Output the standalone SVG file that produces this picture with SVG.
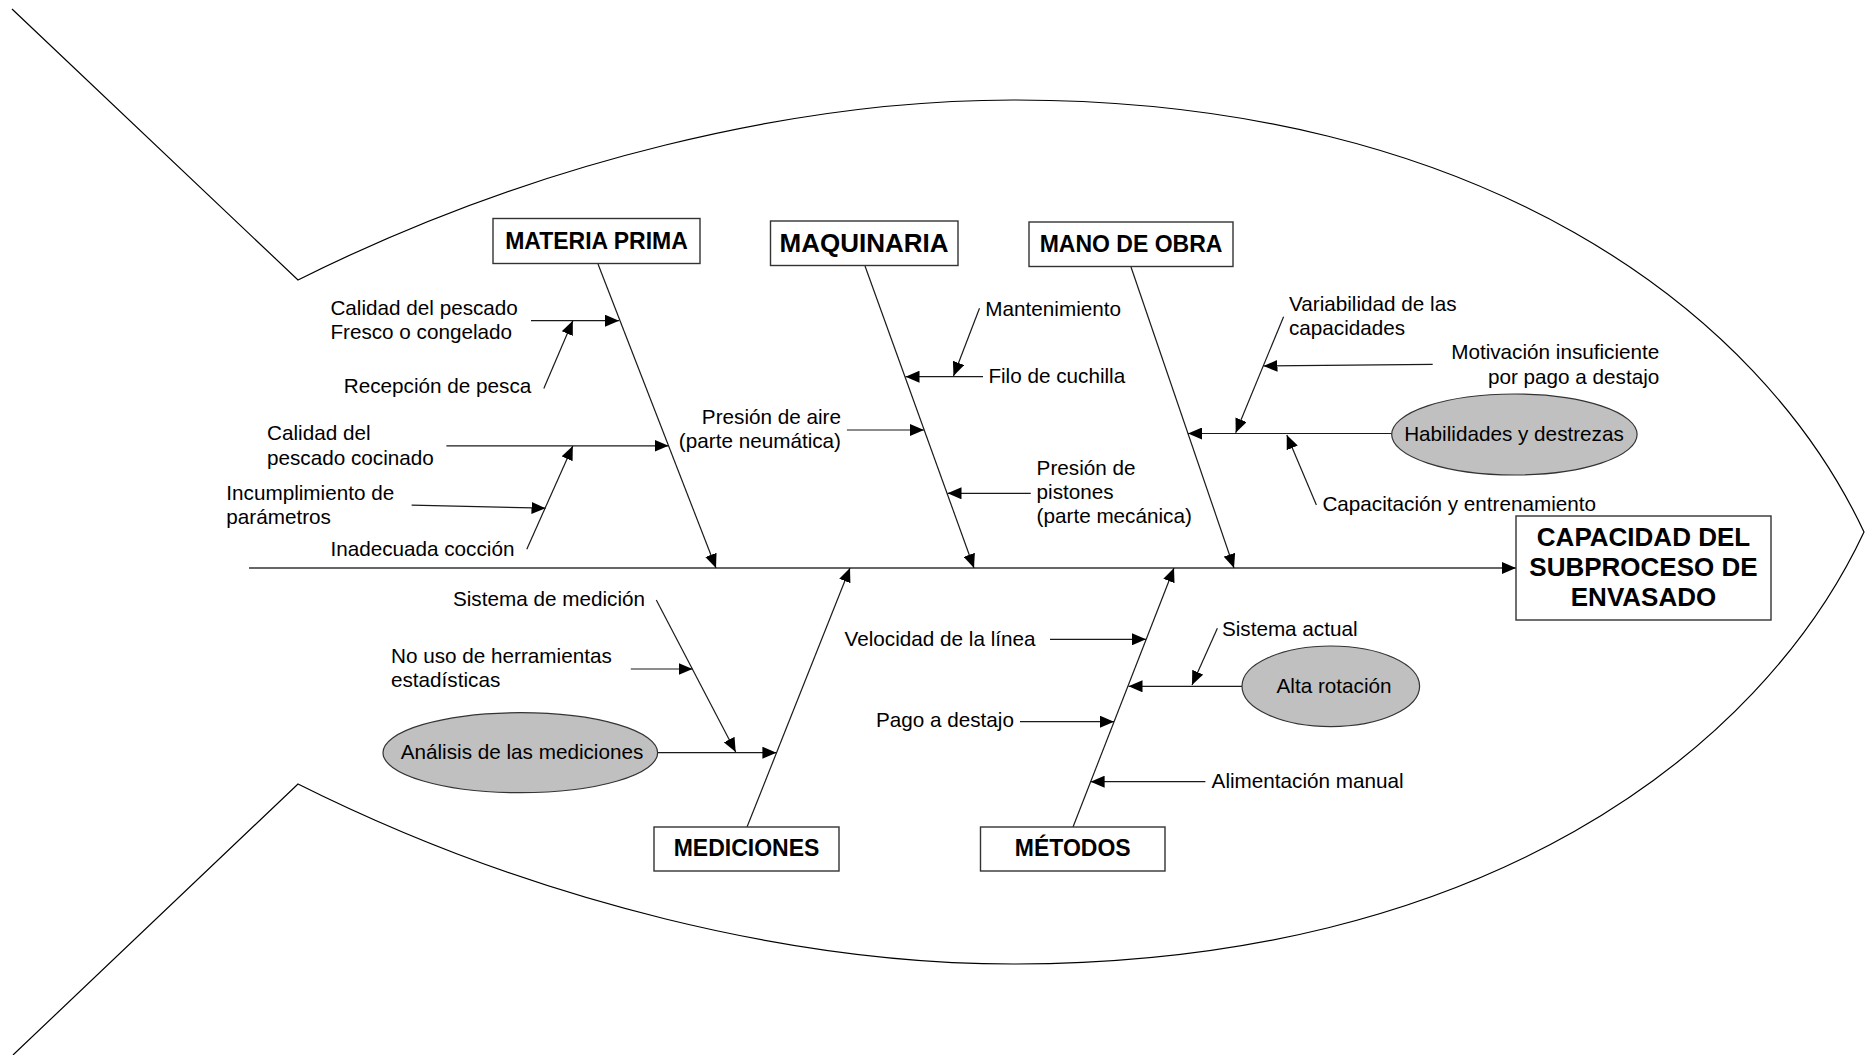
<svg xmlns="http://www.w3.org/2000/svg" width="1865" height="1055" viewBox="0 0 1865 1055">
  <defs>
    <marker id="arrow" markerUnits="userSpaceOnUse" markerWidth="15" markerHeight="12" refX="14" refY="6" orient="auto">
      <path d="M0,0 L14,6 L0,12 Z" fill="#000"/>
    </marker>
    <style>
      .fish { fill: none; stroke: #000; stroke-width: 1.2; }
      .bone { fill: none; stroke: #1a1a1a; stroke-width: 1.2; marker-end: url(#arrow); }
      .spine { fill: none; stroke: #333; stroke-width: 1.6; marker-end: url(#arrow); }
      .link { fill: none; stroke: #333; stroke-width: 1.6; }
      .box { fill: #fff; stroke: #333; stroke-width: 1.4; }
      .oval { fill: #c0c0c0; stroke: #333; stroke-width: 1.2; }
      .t { font-family: "Liberation Sans", Arial, sans-serif; font-size: 20.7px; fill: #000; }
      .r { text-anchor: end; }
      .m { text-anchor: middle; }
      .cat { font-family: "Liberation Sans", Arial, sans-serif; font-weight: bold; font-size: 23px; fill: #000; text-anchor: middle; }
      .head { font-family: "Liberation Sans", Arial, sans-serif; font-weight: bold; font-size: 26px; fill: #000; text-anchor: middle; }
    </style>
  </defs>

  <!-- fish outline: tail and body -->
  <path class="fish" d="M12,9 L298,280 C538,160 800,100 1013,100 C1480,100 1760,310 1864,532 C1760,754 1480,964 1013,964 C800,964 538,904 298,784 L13,1055"/>

  <!-- connectors -->
  <g id="connectors">
    <line class="spine" x1="249" y1="568" x2="1516" y2="568"/>
    <!-- main bones -->
    <line class="bone" x1="598" y1="264" x2="716" y2="568"/>
    <line class="bone" x1="865" y1="266" x2="974" y2="568"/>
    <line class="bone" x1="1131" y1="267" x2="1234" y2="568"/>
    <line class="bone" x1="747" y1="827" x2="850" y2="568"/>
    <line class="bone" x1="1073" y1="827" x2="1174" y2="568"/>
    <!-- materia prima -->
    <line class="bone" x1="531" y1="320.7" x2="619" y2="320.7"/>
    <line class="bone" x1="543.8" y1="388.4" x2="572.8" y2="320.7"/>
    <line class="bone" x1="446.4" y1="445.8" x2="668.5" y2="445.8"/>
    <line class="bone" x1="411.6" y1="505.2" x2="545.5" y2="508.2"/>
    <line class="bone" x1="526.8" y1="549.2" x2="572.8" y2="446"/>
    <!-- maquinaria -->
    <line class="bone" x1="979.5" y1="308.3" x2="953.5" y2="376"/>
    <line class="bone" x1="983" y1="376.7" x2="905.5" y2="376.7"/>
    <line class="bone" x1="846.9" y1="430" x2="924" y2="430"/>
    <line class="bone" x1="1030.8" y1="493.3" x2="947.5" y2="493.3"/>
    <!-- mano de obra -->
    <line class="bone" x1="1391.7" y1="433.5" x2="1188" y2="433.5"/>
    <line class="bone" x1="1283.6" y1="316.7" x2="1235.7" y2="432.7"/>
    <line class="bone" x1="1432.7" y1="364.3" x2="1263.5" y2="366"/>
    <line class="bone" x1="1316.4" y1="505" x2="1286.8" y2="435"/>
    <!-- mediciones -->
    <line class="bone" x1="657.6" y1="752.7" x2="776.4" y2="752.7"/>
    <line class="bone" x1="656.3" y1="600" x2="735.7" y2="752"/>
    <line class="bone" x1="630.8" y1="669" x2="692.5" y2="669"/>
    <!-- metodos -->
    <line class="bone" x1="1050" y1="639.3" x2="1146" y2="639.3"/>
    <line class="bone" x1="1242" y1="686.3" x2="1128.5" y2="686.3"/>
    <line class="bone" x1="1217.4" y1="628.3" x2="1192" y2="685"/>
    <line class="bone" x1="1020" y1="721.7" x2="1114" y2="721.7"/>
    <line class="bone" x1="1205.4" y1="781.7" x2="1090.6" y2="781.7"/>
  </g>

  <!-- effect -->
  <g id="capacidad">
    <rect class="box" x="1516" y="516" width="255" height="104"/>
    <text class="head" x="1643.5" y="545.7">CAPACIDAD DEL</text>
    <text class="head" x="1643.5" y="576">SUBPROCESO DE</text>
    <text class="head" x="1643.5" y="606">ENVASADO</text>
  </g>

  <!-- categories -->
  <g id="materia-prima">
    <rect class="box" x="493" y="218.5" width="207" height="45"/>
    <text class="cat" x="596.5" y="249">MATERIA PRIMA</text>
  </g>
  <g id="maquinaria">
    <rect class="box" x="770.5" y="221" width="187.5" height="44.5"/>
    <text class="cat" x="864" y="252" style="font-size:26px">MAQUINARIA</text>
  </g>
  <g id="mano-de-obra">
    <rect class="box" x="1029" y="222" width="204" height="44.5"/>
    <text class="cat" x="1131" y="251.5">MANO DE OBRA</text>
  </g>
  <g id="mediciones">
    <rect class="box" x="654" y="827" width="185" height="44"/>
    <text class="cat" x="746.5" y="856">MEDICIONES</text>
  </g>
  <g id="metodos">
    <rect class="box" x="980.5" y="827" width="184.5" height="44"/>
    <text class="cat" x="1072.7" y="856">MÉTODOS</text>
  </g>

  <!-- materia prima causes -->
  <g id="mp-causes">
    <text class="t" x="330.4" y="314.6">Calidad del pescado</text>
    <text class="t" x="330.4" y="339">Fresco o congelado</text>
    <text class="t" x="343.8" y="393">Recepción de pesca</text>
    <text class="t" x="267" y="440">Calidad del</text>
    <text class="t" x="267" y="464.5">pescado cocinado</text>
    <text class="t" x="226.3" y="499.5">Incumplimiento de</text>
    <text class="t" x="226.3" y="523.5">parámetros</text>
    <text class="t" x="330.4" y="556">Inadecuada cocción</text>
  </g>

  <!-- maquinaria causes -->
  <g id="mq-causes">
    <text class="t" x="985.3" y="316">Mantenimiento</text>
    <text class="t" x="988.4" y="383.3">Filo de cuchilla</text>
    <text class="t r" x="841" y="424.3">Presión de aire</text>
    <text class="t r" x="841" y="448.3">(parte neumática)</text>
    <text class="t" x="1036.6" y="475">Presión de</text>
    <text class="t" x="1036.6" y="499">pistones</text>
    <text class="t" x="1036.6" y="523.3">(parte mecánica)</text>
  </g>

  <!-- mano de obra causes -->
  <g id="mo-causes">
    <text class="t" x="1289" y="310.7">Variabilidad de las</text>
    <text class="t" x="1289" y="335">capacidades</text>
    <text class="t r" x="1659.3" y="359">Motivación insuficiente</text>
    <text class="t r" x="1659.3" y="384">por pago a destajo</text>
    <text class="t" x="1322.4" y="510.7">Capacitación y entrenamiento</text>
  </g>
  <g id="habilidades">
    <ellipse class="oval" cx="1514.4" cy="434.5" rx="122.7" ry="40.5"/>
    <text class="t m" x="1514" y="441">Habilidades y destrezas</text>
  </g>

  <!-- mediciones causes -->
  <g id="me-causes">
    <text class="t r" x="645" y="605.7">Sistema de medición</text>
    <text class="t" x="391" y="663.3">No uso de herramientas</text>
    <text class="t" x="391" y="687.3">estadísticas</text>
  </g>
  <g id="analisis">
    <ellipse class="oval" cx="520.3" cy="752.7" rx="137.3" ry="40"/>
    <text class="t m" x="522" y="759">Análisis de las mediciones</text>
  </g>

  <!-- metodos causes -->
  <g id="mt-causes">
    <text class="t" x="844.6" y="646">Velocidad de la línea</text>
    <text class="t" x="1221.9" y="636">Sistema actual</text>
    <text class="t" x="875.9" y="726.7">Pago a destajo</text>
    <text class="t" x="1211.6" y="788.3">Alimentación manual</text>
  </g>
  <g id="alta-rotacion">
    <ellipse class="oval" cx="1330.8" cy="686.3" rx="88.8" ry="40.3"/>
    <text class="t m" x="1334" y="692.7">Alta rotación</text>
  </g>
</svg>
